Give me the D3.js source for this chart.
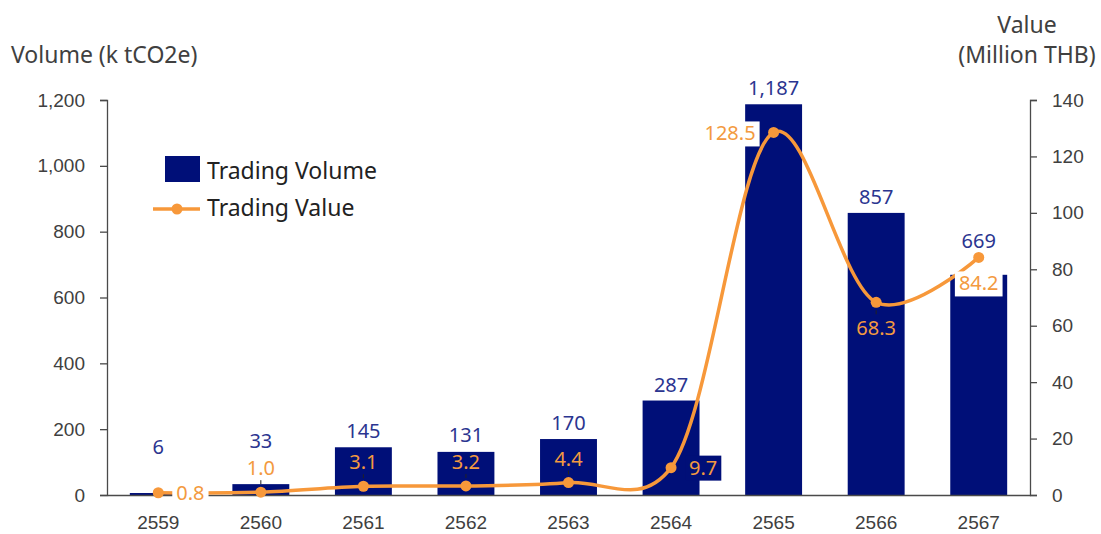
<!DOCTYPE html>
<html>
<head>
<meta charset="utf-8">
<script src="https://cdn.jsdelivr.net/npm/d3@7"></script>
<style>
  html, body { margin: 0; padding: 0; background: #fff; }
  svg { display: block; font-family: "Noto Sans", "Open Sans", sans-serif; }
</style>
</head>
<body>
<svg id="chart" width="1101" height="534"></svg>
<script>
// Carbon credit trading, by Thai Buddhist-era year
const years = ["2559", "2560", "2561", "2562", "2563", "2564", "2565", "2566", "2567"];
const tradingVolume = [6, 33, 145, 131, 170, 287, 1187, 857, 669];          // k tCO2e
const tradingValue = [0.8, 1.0, 3.1, 3.2, 4.4, 9.7, 128.5, 68.3, 84.2];     // Million THB
const volumeTicks = [0, 200, 400, 600, 800, 1000, 1200];
const valueTicks = [0, 20, 40, 60, 80, 100, 120, 140];

// where each value label sits relative to its point
const valueLabelSide = ["right", "above", "above", "above", "above", "right", "left", "below", "below"];

const C = {
  bar: "#000f78",
  volText: "#2b3590",
  line: "#f7983a",
  valText: "#f39a40",
  axis: "#4a4a4a",
  text: "#404040"
};

const svg = d3.select("#chart");
const m = { left: 107, right: 1030, top: 100, bottom: 495 };

const x = d3.scaleBand().domain(years).range([m.left, m.right]).paddingInner(0.445).paddingOuter(0.2225);
const yL = d3.scaleLinear().domain([0, 1200]).range([m.bottom, m.top]);
const yR = d3.scaleLinear().domain([0, 140]).range([m.bottom, m.top]);
const cx = d => x(d) + x.bandwidth() / 2;

// bars
svg.append("g").selectAll("rect").data(years).join("rect")
  .attr("x", d => x(d))
  .attr("y", (d, i) => yL(tradingVolume[i]))
  .attr("width", x.bandwidth())
  .attr("height", (d, i) => m.bottom - yL(tradingVolume[i]))
  .attr("fill", C.bar);

// axes
const axisStyle = g => {
  g.select(".domain").attr("stroke", C.axis).attr("stroke-width", 1.3);
  g.selectAll(".tick line").attr("stroke", C.axis).attr("stroke-width", 1.3);
  g.selectAll(".tick text").attr("fill", C.text).style("font-size", "19px");
};

svg.append("g").attr("transform", `translate(${m.left},0)`)
  .call(d3.axisLeft(yL).tickValues(volumeTicks).tickSize(7).tickPadding(15).tickSizeOuter(7)
    .tickFormat(d3.format(",")))
  .call(axisStyle);

svg.append("g").attr("transform", `translate(${m.right},0)`)
  .call(d3.axisRight(yR).tickValues(valueTicks).tickSize(7).tickPadding(15).tickSizeOuter(7))
  .call(axisStyle);

svg.append("g").attr("transform", `translate(0,${m.bottom})`)
  .call(d3.axisBottom(x).tickSize(0).tickPadding(21).tickSizeOuter(0))
  .call(axisStyle);

// axis titles
svg.append("text").attr("x", 11).attr("y", 63).attr("fill", C.text)
  .style("font-size", "23px").text("Volume (k tCO2e)");
svg.append("text").attr("x", 1027).attr("y", 33).attr("text-anchor", "middle").attr("fill", C.text)
  .style("font-size", "23px").text("Value");
svg.append("text").attr("x", 1027).attr("y", 63).attr("text-anchor", "middle").attr("fill", C.text)
  .style("font-size", "23px").text("(Million THB)");

// smoothed value line
const pts = years.map((d, i) => [cx(d), yR(tradingValue[i])]);
svg.append("path")
  .attr("d", d3.line().curve(d3.curveCatmullRom.alpha(0.2))(pts))
  .attr("fill", "none").attr("stroke", C.line).attr("stroke-width", 3.5);
svg.append("g").selectAll("circle").data(pts).join("circle")
  .attr("cx", d => d[0]).attr("cy", d => d[1]).attr("r", 5.5).attr("fill", C.line);

// volume labels: above the bar, lifted over the value label/point where needed
const volLabels = svg.append("g");
years.forEach((d, i) => {
  const barTop = yL(tradingVolume[i]);
  const pY = yR(tradingValue[i]);
  let y = barTop - 9;
  if (valueLabelSide[i] === "above") y = Math.min(y, pY - 44);
  if (valueLabelSide[i] === "below" && pY < barTop) y = pY - 9;
  if (i === 0) y = Math.min(y, pY - 39);
  volLabels.append("text").attr("x", cx(d)).attr("y", y).attr("text-anchor", "middle")
    .attr("fill", C.volText).style("font-size", "20px").text(d3.format(",")(tradingVolume[i]));
});

// value labels
const valLabels = svg.append("g");
years.forEach((d, i) => {
  const [px, py] = pts[i];
  const side = valueLabelSide[i];
  let tx = px, ty = py, anchor = "middle";
  if (side === "right") { tx = px + 18; anchor = "start"; ty = py + 7; }
  if (side === "left") { tx = px - 18; anchor = "end"; ty = py + 8; }
  if (side === "above") { tx = px; ty = py - 17; }
  if (side === "below") { tx = px; ty = py + 33; }
  const g = valLabels.append("g");
  const t = g.append("text").attr("x", tx).attr("y", ty).attr("text-anchor", anchor)
    .attr("fill", C.valText).style("font-size", "20px").text(tradingValue[i].toFixed(1));
  const bb = t.node().getBBox();
  let bg = null;
  if (i === 0 || i === 6 || i === 8) bg = "#fff";
  if (i === 5) bg = C.bar;
  if (bg) {
    g.insert("rect", "text").attr("x", bb.x - 4).attr("y", bb.y + 2)
      .attr("width", bb.width + 8).attr("height", bb.height - 2).attr("fill", bg);
  }
  // short leader marks
  if (i >= 1 && i <= 4) {
    g.append("line").attr("x1", px).attr("x2", px).attr("y1", py - 12).attr("y2", py - 8)
      .attr("stroke", "#222").attr("stroke-width", 1);
  }
  if (i === 7) {
    g.append("line").attr("x1", px).attr("x2", px).attr("y1", py + 8).attr("y2", py + 12)
      .attr("stroke", "#222").attr("stroke-width", 1);
  }
});

// legend
const lg = svg.append("g");
lg.append("rect").attr("x", 165).attr("y", 156).attr("width", 35).attr("height", 26).attr("fill", C.bar);
lg.append("text").attr("x", 207).attr("y", 179).attr("fill", "#222").style("font-size", "23px").text("Trading Volume");
lg.append("line").attr("x1", 153).attr("x2", 200).attr("y1", 209).attr("y2", 209)
  .attr("stroke", C.line).attr("stroke-width", 3.5);
lg.append("circle").attr("cx", 177).attr("cy", 209).attr("r", 5.5).attr("fill", C.line);
lg.append("text").attr("x", 207).attr("y", 216).attr("fill", "#222").style("font-size", "23px").text("Trading Value");
</script>
</body>
</html>
